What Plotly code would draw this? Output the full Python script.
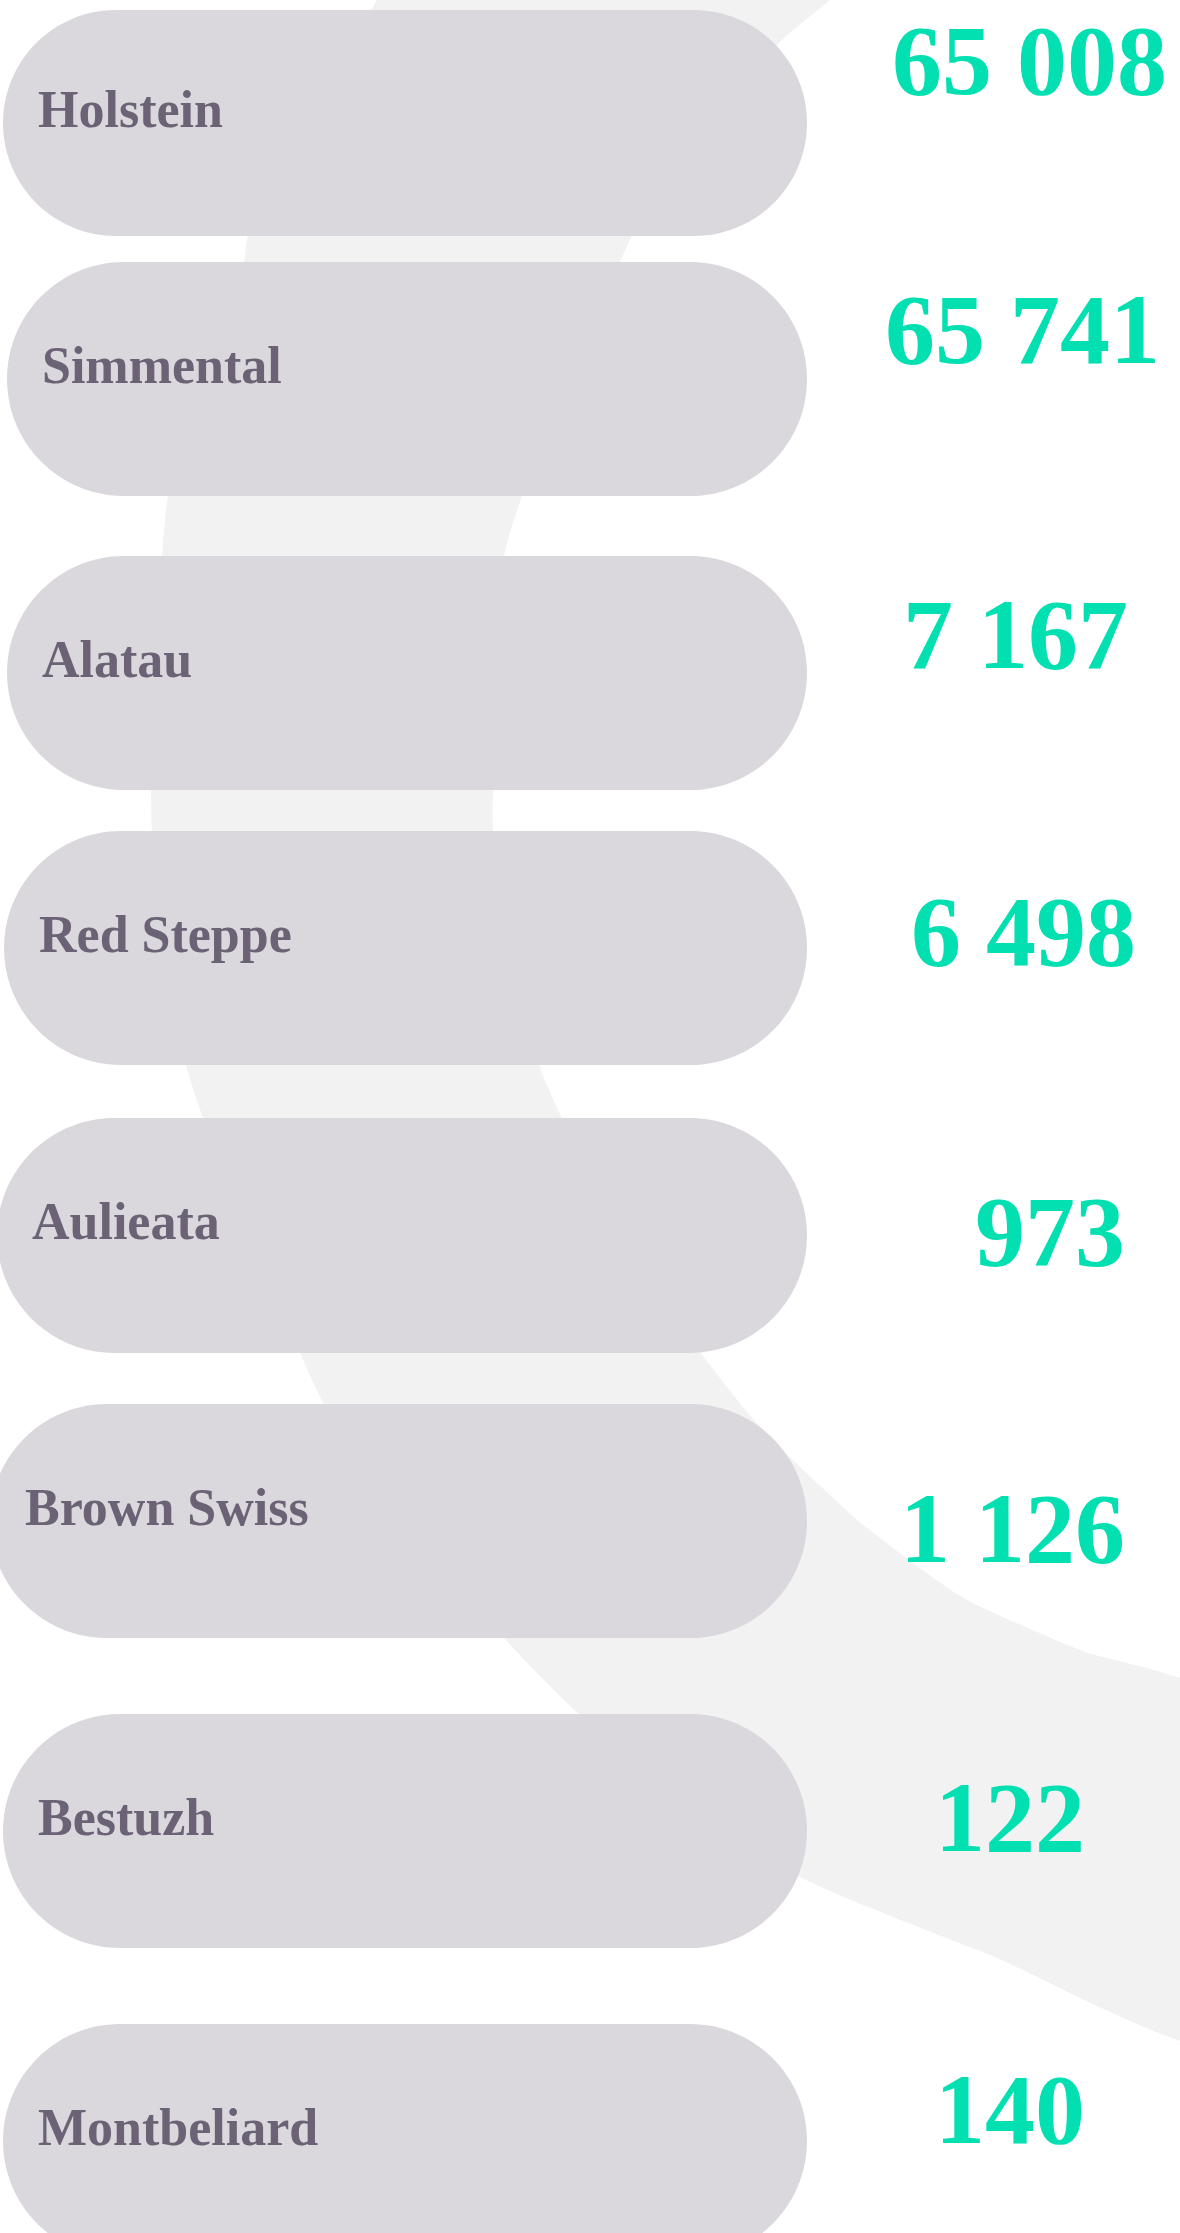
import plotly.graph_objects as go

# ---------------- data ----------------
breeds = ["Holstein", "Simmental", "Alatau", "Red Steppe",
          "Aulieata", "Brown Swiss", "Bestuzh", "Montbeliard"]
heads = [65008, 65741, 7167, 6498, 973, 1126, 122, 140]

# ---------------- layout (pixel units of the 1180x2233 page) ----------------
W, H = 1180, 2233
pill_top = [10, 262, 556, 831, 1118, 1404, 1714, 2024]
pill_bottom = [236, 496, 790, 1065, 1353, 1638, 1948, 2258]
pill_left = [3, 7, 7, 4, -3, -10, 3, 3]
pill_right = 807
value_baseline = [90, 359, 664, 961, 1261, 1558, 1847, 2139]
value_x = [1029, 1022, 1015, 1023, 1050, 1012, 1010, 1010]

PILL_COLOR = "#dad8dd"
BAND_COLOR = "#f2f2f2"
LABEL_COLOR = "#6b6275"
VALUE_COLOR = "#02e0b2"

# decorative background ribbon outline (left edge top->bottom, right edge bottom->top)
band_left = [(388, -20), (310, 120), (248, 236), (244, 262), (200, 380), (168, 496),
             (162, 556), (152, 700), (151, 790), (152, 831), (165, 950), (186, 1065),
             (203, 1118), (250, 1240), (300, 1353), (324, 1404), (410, 1520),
             (504, 1638), (579, 1714), (690, 1800), (800, 1877), (990, 1955), (1220, 2045)]
band_right = [(1220, 1700), (1080, 1650), (962, 1597), (861, 1523), (796, 1463),
              (754, 1420), (701, 1353), (630, 1240), (562, 1118), (539, 1065),
              (510, 950), (493, 831), (493, 790), (497, 680), (504, 556), (522, 496),
              (570, 380), (620, 262), (632, 236), (710, 130), (782, 40), (830, 0), (850, -20)]


def fmt(v):
    return f"{v:,}".replace(",", " ")


def stadium(x0, x1, y0, y1):
    r = (y1 - y0) / 2.0
    k = 0.5523 * r
    cy = (y0 + y1) / 2.0
    a, b = x0 + r, x1 - r
    return (f"M {a},{y0} L {b},{y0} "
            f"C {b + k},{y0} {x1},{cy - k} {x1},{cy} "
            f"C {x1},{cy + k} {b + k},{y1} {b},{y1} "
            f"L {a},{y1} "
            f"C {a - k},{y1} {x0},{cy + k} {x0},{cy} "
            f"C {x0},{cy - k} {a - k},{y0} {a},{y0} Z")


fig = go.Figure()

pts = band_left + band_right
fig.add_trace(go.Scatter(
    x=[p[0] for p in pts], y=[p[1] for p in pts],
    mode="lines", line=dict(width=0, shape="spline", smoothing=0.6),
    fill="toself", fillcolor=BAND_COLOR, hoverinfo="skip", showlegend=False))

shapes = []
annotations = []
for i, name in enumerate(breeds):
    t, b, l = pill_top[i], pill_bottom[i], pill_left[i]
    shapes.append(dict(type="path", path=stadium(l, pill_right, t, b),
                       xref="x", yref="y", fillcolor=PILL_COLOR,
                       line=dict(width=0), layer="above"))
    cy = (t + b) / 2.0
    annotations.append(dict(
        x=l + 33, y=cy - 14, xref="x", yref="y", text=name, showarrow=False,
        xanchor="left", yanchor="middle",
        font=dict(family="Liberation Serif", size=52, color=LABEL_COLOR, weight="bold")))
    annotations.append(dict(
        x=value_x[i], y=value_baseline[i] - 30, xref="x", yref="y", text=fmt(heads[i]),
        showarrow=False, xanchor="center", yanchor="middle",
        font=dict(family="Liberation Serif", size=100, color=VALUE_COLOR, weight="bold")))

fig.update_layout(
    width=W, height=H,
    margin=dict(l=0, r=0, t=0, b=0),
    paper_bgcolor="white", plot_bgcolor="white",
    xaxis=dict(range=[0, W], visible=False, fixedrange=True),
    yaxis=dict(range=[H, 0], visible=False, fixedrange=True),
    shapes=shapes, annotations=annotations,
    showlegend=False,
)

fig.write_html("out.html",
               config={"displayModeBar": False, "staticPlot": True},
               post_script="document.body.style.margin='0';document.body.style.overflow='hidden';")
